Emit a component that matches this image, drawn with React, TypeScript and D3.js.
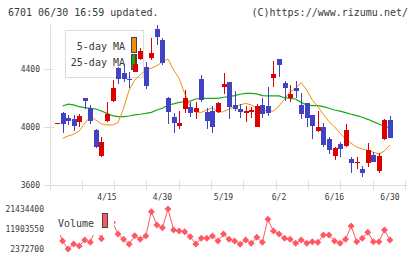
import React from 'react';
import * as d3 from 'd3';

// trading days shown on the chart
const dates = [
  '4/2', '4/3', '4/4', '4/7', '4/8', '4/9', '4/10', '4/11', '4/14', '4/15',
  '4/16', '4/17', '4/18', '4/21', '4/22', '4/23', '4/24', '4/25', '4/28', '4/30',
  '5/1', '5/2', '5/7', '5/8', '5/9', '5/12', '5/13', '5/14', '5/15', '5/16',
  '5/19', '5/20', '5/21', '5/22', '5/23', '5/26', '5/27', '5/28', '5/29', '5/30',
  '6/2', '6/3', '6/4', '6/5', '6/6', '6/9', '6/10', '6/11', '6/12', '6/13',
  '6/16', '6/17', '6/18', '6/19', '6/20', '6/23', '6/24', '6/25', '6/26', '6/27',
  '6/30',
];

const opens = [
  4026, 4097, 4062, 4055, 4034, 4200, 4131, 3979, 3800, 4041,
  4179, 4407, 4372, 4331, 4379, 4469, 4414, 4476, 4676, 4600,
  4200, 4069, 4007, 4124, 4138, 4103, 4331, 4103, 4110, 4103,
  4276, 4310, 4152, 4124, 4097, 4103, 4000, 4152, 4145, 4338,
  4469, 4303, 4200, 4269, 4152, 4166, 4083, 3972, 4000, 3917,
  3800, 3883, 3869, 3779, 3755, 3710, 3752, 3807, 3697, 3917,
  4048,
];
const highs = [
  4030, 4103, 4083, 4083, 4090, 4200, 4152, 3986, 3931, 4172,
  4324, 4414, 4434, 4379, 4497, 4545, 4448, 4614, 4703, 4614,
  4207, 4097, 4110, 4255, 4172, 4172, 4359, 4131, 4145, 4172,
  4372, 4310, 4248, 4159, 4145, 4138, 4159, 4200, 4276, 4455,
  4469, 4317, 4290, 4317, 4234, 4166, 4083, 4110, 4028, 3931,
  3862, 3897, 4021, 3793, 3793, 3731, 3890, 3828, 3821, 4055,
  4076,
];
const lows = [
  4024, 3959, 4014, 3972, 4000, 4124, 4021, 3855, 3793, 4034,
  4172, 4297, 4310, 4269, 4379, 4462, 4262, 4462, 4566, 4428,
  4021, 3959, 3986, 4097, 4069, 4055, 4172, 3986, 3959, 4097,
  4228, 4055, 4110, 4062, 4034, 4062, 4000, 4062, 4076, 4276,
  4345, 4179, 4172, 4200, 4055, 4000, 3917, 3966, 3862, 3814,
  3772, 3793, 3862, 3683, 3710, 3655, 3724, 3759, 3683, 3910,
  3924,
];
const closes = [
  4028, 4021, 4041, 4007, 4076, 4179, 4041, 3862, 3897, 4090,
  4269, 4331, 4331, 4324, 4434, 4524, 4283, 4510, 4621, 4441,
  4103, 4028, 4028, 4200, 4097, 4131, 4186, 4041, 4000, 4166,
  4297, 4138, 4124, 4103, 4110, 4117, 4145, 4090, 4097, 4366,
  4428, 4269, 4228, 4248, 4090, 4062, 4007, 4000, 3876, 3841,
  3855, 3848, 3979, 3752, 3759, 3683, 3841, 3759, 3800, 4048,
  3924,
];

// moving averages (first day has none on the chart)
const ma5 = [
  null, 3922, 3938, 3950, 3972, 4026, 4071, 4048, 4021, 4014,
  4014, 4030, 4129, 4255, 4324, 4359, 4393, 4405, 4423, 4450,
  4469, 4393, 4336, 4232, 4140, 4101, 4101, 4117, 4133, 4101,
  4106, 4124, 4140, 4152, 4163, 4152, 4129, 4117, 4110, 4110,
  4145, 4193, 4243, 4267, 4306, 4255, 4186, 4140, 4088, 4037,
  4002, 3957, 3917, 3888, 3862, 3848, 3839, 3826, 3814, 3834,
  3876,
];
const ma25 = [
  null, 4145, 4157, 4152, 4140, 4133, 4129, 4124, 4110, 4094,
  4078, 4071, 4071, 4076, 4083, 4088, 4094, 4101, 4117, 4129,
  4152, 4159, 4170, 4174, 4179, 4193, 4198, 4198, 4198, 4198,
  4205, 4209, 4216, 4226, 4232, 4232, 4228, 4216, 4214, 4214,
  4214, 4202, 4198, 4193, 4170, 4152, 4147, 4147, 4140, 4129,
  4117, 4110, 4099, 4088, 4078, 4067, 4053, 4037, 4021, 4007,
  3993,
];

const volumes = [
  13000000, 6185000, 2372700, 4755000, 3802000, 6662000, 5565000, 12190000, 7281000, 16000000,
  15050000, 9521000, 6995000, 4612000, 8711000, 6995000, 8568000, 20148000, 13810000, 12523000,
  21434400, 11427000, 10950000, 10617000, 8234000, 4755000, 7472000, 7472000, 8568000, 6185000,
  9521000, 6995000, 6185000, 4612000, 6662000, 5089000, 7948000, 5565000, 16526000, 10950000,
  9521000, 7472000, 6995000, 5089000, 6662000, 5089000, 5851000, 5565000, 9044000, 9044000,
  6185000, 5089000, 6995000, 13333000, 5851000, 7472000, 10331000, 5851000, 5851000, 11427000,
  6662000,
];

const priceTicks = [3600, 4000, 4400];
const volumeTicks = [2372700, 11903550, 21434400];
const dateLabels = ['4/15', '4/30', '5/19', '6/2', '6/16', '6/30'];

const FONT = '"DejaVu Sans Mono", monospace';
const UP = '#dd0000';
const DOWN = '#4242c4';
const ORANGE = '#f0900a';
const GREEN = '#14aa14';
const VOL = '#ff5862';
const GRID = '#dddddd';
const TEXT = '#3a3a3a';

export default function App() {
  const x = d3.scalePoint<string>().domain(dates).range([57, 390]);
  const y = d3.scaleLinear().domain([3600, 4400]).range([185, 69]);
  const yVol = d3.scaleLinear().domain([2372700, 21434400]).range([249, 209]);
  // evenly spaced guide ticks along the bottom axis
  const guide = d3.scaleLinear().domain([0, 11]).range([50, 405.5]);

  const maLine = (vals: (number | null)[]) =>
    d3.line<number | null>()
      .defined((d) => d != null)
      .x((_, i) => x(dates[i])!)
      .y((d) => y(d as number))(vals)!;

  const volLine = d3.line<number>()
    .x((_, i) => x(dates[i])!)
    .y((d) => yVol(d))(volumes)!;

  const marker = d3.symbol(d3.symbolDiamond2, 30)()!;
  const bw = 5;

  return (
    <svg width={420} height={259} style={{ position: 'absolute', left: 0, top: 0, background: '#fff' }}
      fontFamily={FONT}>
      <text x={8} y={16} fontSize={10} fill={TEXT}>6701 06/30 16:59 updated.</text>
      <text x={408} y={16} fontSize={10} fill={TEXT} textAnchor="end">(C)https://www.rizumu.net/</text>

      {/* axes */}
      <g stroke={GRID} strokeWidth={1} shapeRendering="crispEdges">
        <line x1={50} x2={50} y1={25} y2={190} />
        <line x1={45} x2={407} y1={y(3600)} y2={y(3600)} />
        {priceTicks.map((t) => (
          <line key={t} x1={44} x2={54} y1={y(t)} y2={y(t)} />
        ))}
        {d3.range(1, 12).map((i) => (
          <line key={i} x1={guide(i)} x2={guide(i)} y1={181} y2={190} />
        ))}
      </g>
      {priceTicks.map((t) => (
        <text key={t} x={40} y={y(t)} dy="0.35em" fontSize={8} fill={TEXT} textAnchor="end">{t}</text>
      ))}
      {dateLabels.map((d) => (
        <text key={d} x={x(d)} y={200} fontSize={8} fill={TEXT} textAnchor="middle">{d}</text>
      ))}

      {/* legend */}
      <rect x={65.5} y={30.5} width={78} height={47} fill="#fff" stroke={GRID} />
      <text x={125} y={50} fontSize={10} fill={TEXT} textAnchor="end">5-day MA</text>
      <text x={125} y={66} fontSize={10} fill={TEXT} textAnchor="end">25-day MA</text>
      <rect x={131.5} y={37.5} width={5} height={15} fill={ORANGE} stroke="#444" />
      <rect x={131.5} y={54.5} width={5} height={15} fill={GREEN} stroke="#444" />

      {/* moving averages */}
      <path d={maLine(ma25)} fill="none" stroke={GREEN} strokeWidth={1.2} />
      <path d={maLine(ma5)} fill="none" stroke={ORANGE} strokeWidth={1} />

      {/* candles */}
      <g shapeRendering="crispEdges">
        {dates.map((d, i) => {
          const cx = Math.round(x(d)!);
          const up = closes[i] >= opens[i];
          const c = up ? UP : DOWN;
          const top = y(Math.max(opens[i], closes[i]));
          const bot = y(Math.min(opens[i], closes[i]));
          return (
            <g key={d}>
              <line x1={cx + 0.5} x2={cx + 0.5} y1={y(highs[i])} y2={y(lows[i])} stroke={c} />
              <rect x={cx - 2} y={top} width={bw} height={Math.max(1, bot - top)} fill={c} />
            </g>
          );
        })}
      </g>

      {/* volume */}
      <path d={volLine} fill="none" stroke={VOL} strokeWidth={1} />
      {volumes.map((v, i) => (
        <path key={i} d={marker} transform={`translate(${x(dates[i])},${yVol(v)})`} fill={VOL} />
      ))}
      <rect x={52} y={204} width={62} height={31} fill="#fff" />
      <text x={58} y={227} fontSize={10} fill={TEXT}>Volume</text>
      <rect x={102.5} y={213.5} width={5} height={14} fill={VOL} stroke="#444" />
      {volumeTicks.map((t) => (
        <text key={t} x={44} y={yVol(t)} dy="0.35em" fontSize={8} fill={TEXT} textAnchor="end">{t}</text>
      ))}
    </svg>
  );
}
